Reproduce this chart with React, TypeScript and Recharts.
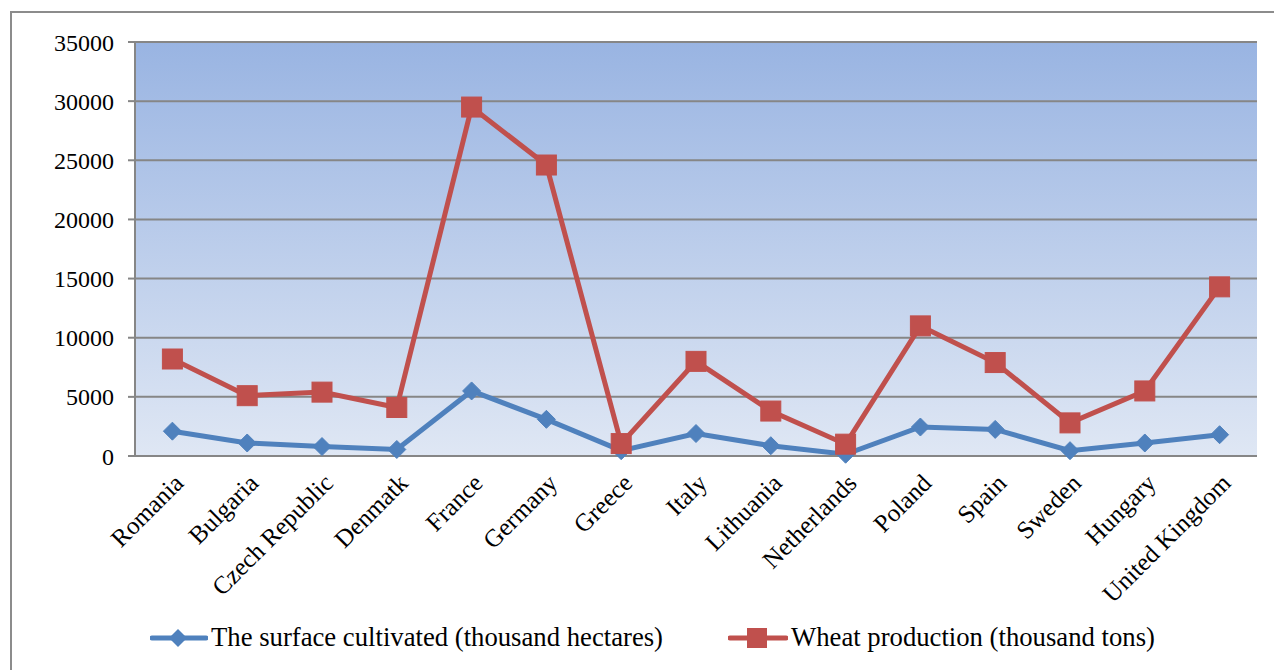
import React from 'react';
import { LineChart, Line, XAxis, YAxis, CartesianGrid, Legend } from 'recharts';

const categories = ['Romania', 'Bulgaria', 'Czech Republic', 'Denmatk', 'France', 'Germany', 'Greece', 'Italy', 'Lithuania', 'Netherlands', 'Poland', 'Spain', 'Sweden', 'Hungary', 'United Kingdom'];
const surfaceCultivated = [2100, 1100, 800, 550, 5500, 3100, 450, 1900, 870, 150, 2450, 2250, 450, 1100, 1800];
const wheatProduction = [8200, 5100, 5400, 4100, 29500, 24600, 1050, 8000, 3800, 1000, 11000, 7900, 2800, 5500, 14300];
const yTicks = [0, 5000, 10000, 15000, 20000, 25000, 30000, 35000];
const seriesNames = ['The surface cultivated (thousand hectares)', 'Wheat production (thousand tons)'];

const data = categories.map((name, i) => ({
  name,
  x: i + 0.5,
  surface: surfaceCultivated[i],
  wheat: wheatProduction[i],
}));
const boundaryTicks = categories.map((_, i) => i).concat([categories.length]);
const centerTicks = categories.map((_, i) => i + 0.5);

const BLUE = '#4F81BD';
const RED = '#C0504D';
const GRID = '#868686';
const FONT = '"Liberation Serif", "Times New Roman", serif';

const Diamond = (props: any) => {
  const { cx, cy } = props;
  if (cx == null || cy == null) return null;
  const r = 9;
  return <path d={`M${cx},${cy - r}L${cx + r},${cy}L${cx},${cy + r}L${cx - r},${cy}Z`} fill={BLUE} stroke={BLUE} strokeWidth={1} />;
};

const Square = (props: any) => {
  const { cx, cy } = props;
  if (cx == null || cy == null) return null;
  const h = 10;
  return <rect x={cx - h} y={cy - h} width={2 * h} height={2 * h} fill={RED} stroke={RED} strokeWidth={1} />;
};

const LegendContent = () => (
  <div style={{ position: 'relative', width: 1274, height: 40, fontFamily: FONT, fontSize: 26.7, color: '#000' }}>
    <div style={{ position: 'absolute', left: 150, top: 0, display: 'flex', alignItems: 'center', whiteSpace: 'nowrap' }}>
      <svg width={58} height={24} style={{ display: 'block' }}>
        <line x1={2} y1={12} x2={56} y2={12} stroke={BLUE} strokeWidth={5} strokeLinecap="round" />
        <path d="M28,3L37,12L28,21L19,12Z" fill={BLUE} />
      </svg>
      <span style={{ marginLeft: 3 }}>{seriesNames[0]}</span>
    </div>
    <div style={{ position: 'absolute', left: 728, top: 0, display: 'flex', alignItems: 'center', whiteSpace: 'nowrap' }}>
      <svg width={60} height={24} style={{ display: 'block' }}>
        <line x1={2} y1={12} x2={58} y2={12} stroke={RED} strokeWidth={5} strokeLinecap="round" />
        <rect x={19} y={2} width={20} height={20} fill={RED} />
      </svg>
      <span style={{ marginLeft: 3 }}>{seriesNames[1]}</span>
    </div>
  </div>
);

export default function App() {
  return (
    <div style={{ position: 'fixed', left: 0, top: 0, width: 1274, height: 670, background: '#fff', overflow: 'hidden', fontFamily: FONT }}>
      <svg width={0} height={0} style={{ position: 'absolute' }}>
        <defs>
          <linearGradient id="plotBg" x1="0" y1="0" x2="0" y2="1">
            <stop offset="0%" stopColor="#99B4E2" />
            <stop offset="100%" stopColor="#DFE7F4" />
          </linearGradient>
        </defs>
      </svg>
      <div style={{ position: 'absolute', left: 10, top: 11, width: 1400, height: 800, border: '2px solid #8C8C8C', boxSizing: 'border-box' }} />
      <div style={{ position: 'absolute', left: 0, top: 0, fontFamily: FONT }}>
        <LineChart width={1274} height={670} data={data} margin={{ top: 42, right: 17, left: 0, bottom: 56 }} style={{ fontFamily: FONT }}>
          <CartesianGrid xAxisId="axis1" vertical={false} horizontal={true} stroke={GRID} strokeWidth={2} fill="url(#plotBg)" fillOpacity={1} />
          <XAxis
            xAxisId="axis1"
            type="number"
            dataKey="x"
            domain={[0, categories.length]}
            ticks={boundaryTicks}
            interval={0}
            tick={false}
            tickSize={7}
            height={8}
            axisLine={{ stroke: GRID, strokeWidth: 2 }}
            tickLine={{ stroke: GRID, strokeWidth: 2 }}
          />
          <XAxis
            xAxisId="axis2"
            type="number"
            dataKey="x"
            domain={[0, categories.length]}
            ticks={centerTicks}
            interval={0}
            height={150}
            axisLine={false}
            tickLine={false}
            tickMargin={2}
            angle={-45}
            textAnchor="end"
            tickFormatter={(v: number) => categories[Math.floor(v)]}
            tick={{ fill: '#000', fontSize: 25, fontFamily: FONT }}
          />
          <YAxis
            width={135}
            domain={[0, 35000]}
            ticks={yTicks}
            interval={0}
            tickSize={7}
            tickMargin={14}
            axisLine={{ stroke: GRID, strokeWidth: 2 }}
            tickLine={{ stroke: GRID, strokeWidth: 2 }}
            tick={{ fill: '#000', fontSize: 24, fontFamily: FONT }}
          />
          <Line xAxisId="axis1" type="linear" dataKey="surface" name={seriesNames[0]} stroke={BLUE} strokeWidth={5} dot={<Diamond />} activeDot={false} isAnimationActive={false} />
          <Line xAxisId="axis1" type="linear" dataKey="wheat" name={seriesNames[1]} stroke={RED} strokeWidth={5} dot={<Square />} activeDot={false} isAnimationActive={false} />
          <Legend layout="horizontal" verticalAlign="middle" align="center" wrapperStyle={{ position: 'absolute', left: 0, top: 622, width: 1274 }} content={<LegendContent />} />
        </LineChart>
      </div>
    </div>
  );
}
